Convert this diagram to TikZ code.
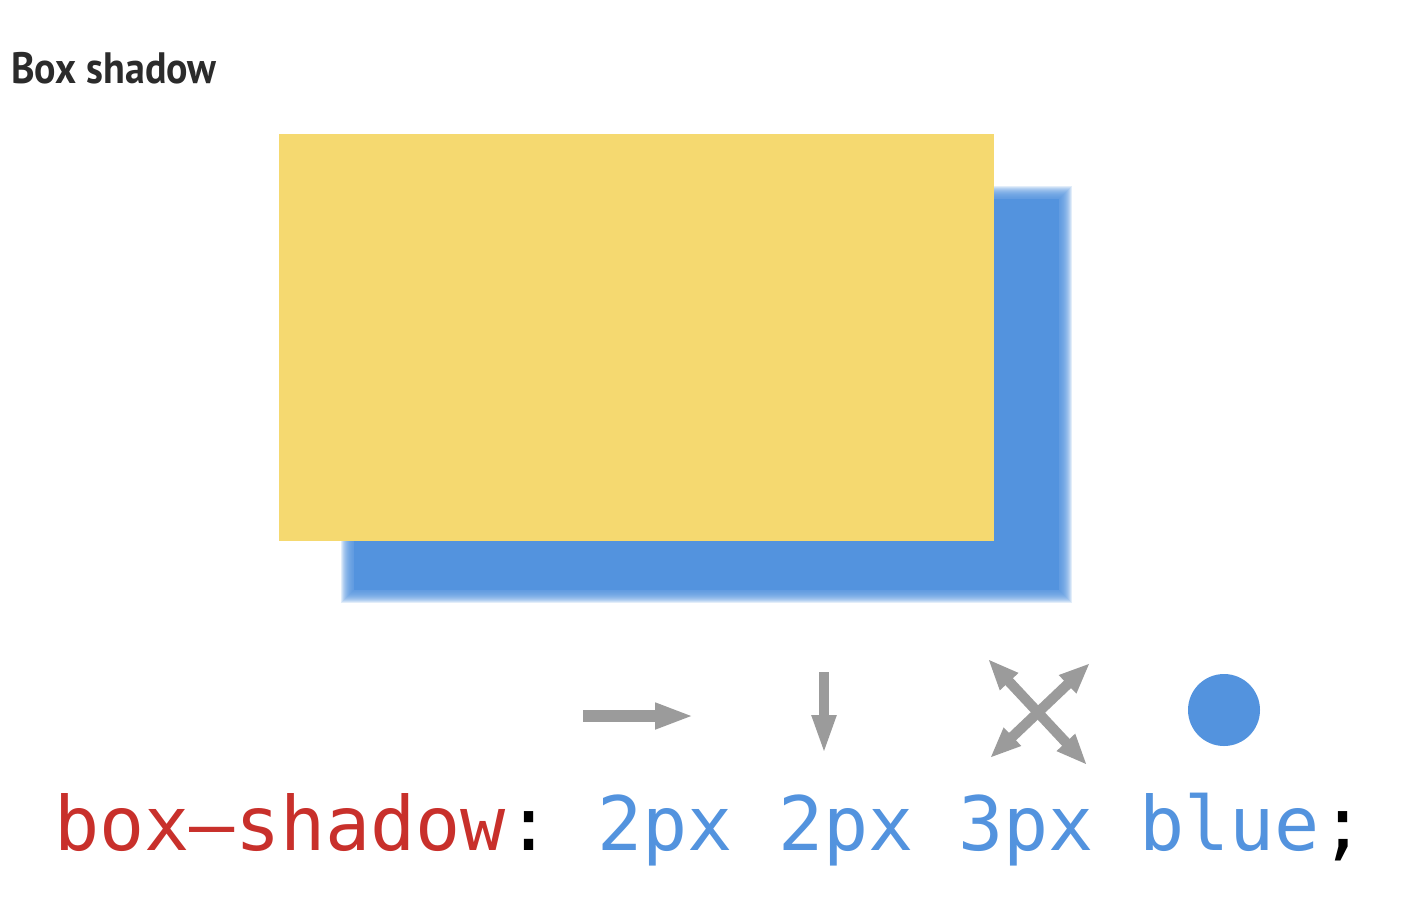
\documentclass[tikz,border=0pt]{standalone}
\usepackage{fontspec}
\setmainfont{PT Sans}[FakeStretch=0.91]
\newfontfamily\codefont{DejaVu Sans Mono}
\definecolor{cardfill}{HTML}{F5D970}
\definecolor{shadowblue}{HTML}{5393DE}
\definecolor{propred}{HTML}{C8302B}
\definecolor{glyphgray}{HTML}{9B9B9B}
\definecolor{titleink}{HTML}{2B2B2B}
\usetikzlibrary{arrows.meta}

\begin{document}
\begin{tikzpicture}[
  x=0.02cm, y=-0.02cm,
  glyph/.style={draw=glyphgray},
  code/.style={anchor=base west, inner sep=0pt, font=\codefont\fontsize{42.7}{48}\selectfont},
  tipR/.style={-{Triangle[length=0.78cm, width=0.48cm]}},
  tipD/.style={-{Triangle[length=0.8cm, width=0.44cm]}},
  tipX/.style={{Triangle[length=0.62cm, width=0.46cm]}-{Triangle[length=0.62cm, width=0.46cm]}}
]
  \useasboundingbox (0,0) rectangle (1420,904);

  \node[anchor=base west, inner sep=0pt, text=titleink,
    font=\fontsize{25}{28}\selectfont\bfseries] (title) at (11,83) {Box shadow};

  % blurred shadow
  \foreach \k in {0,...,12}
    \fill[shadowblue, opacity=0.17] (341+\k,186+\k) rectangle (1072-\k,603-\k);
  \fill[shadowblue] (354,199) rectangle (1059,590);

  % card
  \fill[cardfill] (279,134) rectangle (994,541);

  % offset / blur / colour glyphs
  \draw[glyph, tipR, line width=6.8pt] (583,716) -- (694,716);
  \draw[glyph, tipD, line width=6.2pt] (824,672) -- (824,755);
  \draw[glyph, tipX, line width=5.8pt] (988,659) -- (1087,765);
  \draw[glyph, tipX, line width=5.8pt] (1090,663) -- (990,758);
  \fill[shadowblue] (1224,710) circle[radius=36];

  \node[code] (prop) at (54,850) {\color{propred}box–shadow\color{black}:};
  \node[code] (value) at (597,850) {\color{shadowblue}2px 2px 3px blue\color{black};};
\end{tikzpicture}
\end{document}
